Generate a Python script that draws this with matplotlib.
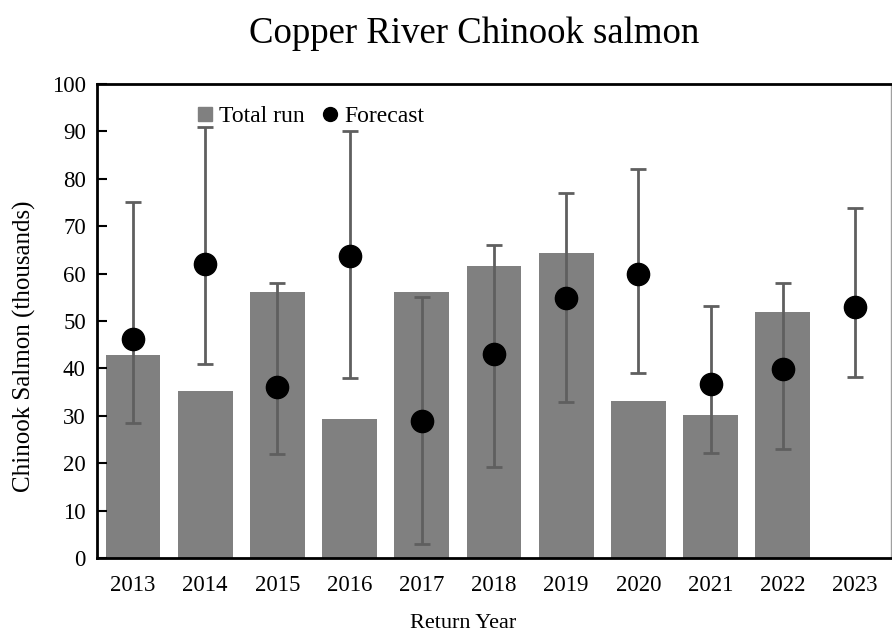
import numpy as np
import matplotlib
matplotlib.use("Agg")
import matplotlib.pyplot as plt
from matplotlib.lines import Line2D

plt.rcParams['font.family'] = ['Liberation Serif', 'DejaVu Serif']

# Return years and values (thousands of fish)
years = ['2013', '2014', '2015', '2016', '2017', '2018', '2019', '2020', '2021', '2022', '2023']
total_run = [42.9, 35.2, 56.1, 29.4, 56.1, 61.7, 64.4, 33.1, 30.2, 52.0, np.nan]
forecast = [46.2, 62.0, 36.0, 63.8, 29.0, 43.0, 54.9, 59.9, 36.8, 39.8, 53.0]
fc_low = [28.5, 41.0, 22.0, 38.0, 3.0, 19.2, 32.9, 39.1, 22.1, 23.0, 38.1]
fc_high = [75.0, 91.0, 58.0, 90.0, 55.0, 66.1, 77.0, 82.0, 53.1, 58.0, 73.9]

x = np.arange(len(years))
fc = np.array(forecast)
yerr = np.vstack([fc - np.array(fc_low), np.array(fc_high) - fc])

fig = plt.figure(figsize=(8.92, 6.34), dpi=100)
ax = fig.add_axes([0.1087, 0.1199, 0.8902, 0.7476])

ax.bar(x, total_run, width=0.76, color='#808080', zorder=1)
ax.errorbar(x, fc, yerr=yerr, fmt='none', ecolor='#5f5f5f', elinewidth=2,
            capsize=6, capthick=2, zorder=2)
ax.plot(x, fc, 'o', color='black', markersize=16, zorder=3)

ax.set_xlim(-0.5, 10.5)
ax.set_ylim(0, 100)
ax.set_yticks(range(0, 101, 10))
ax.set_xticks(x)
ax.set_xticklabels(years)
ax.tick_params(axis='y', direction='in', length=7, width=1.5, labelsize=16.5, pad=8)
ax.tick_params(axis='x', length=0, labelsize=16.5, pad=12)

for side in ['left', 'bottom', 'top']:
    ax.spines[side].set_linewidth(2)
    ax.spines[side].set_color('black')
ax.spines['right'].set_linewidth(1)
ax.spines['right'].set_color('#a0a0a0')

ax.set_ylabel('Chinook Salmon (thousands)', fontsize=18)
ax.yaxis.set_label_coords(-0.077, 0.446)
ax.set_xlabel('Return Year', fontsize=16)
ax.xaxis.set_label_coords(0.461, -0.119)
fig.text(0.532, 0.947, 'Copper River Chinook salmon', fontsize=26.5,
         ha='center', va='center')

handles = [
    Line2D([], [], marker='s', color='#808080', linestyle='none', markersize=10),
    Line2D([], [], marker='o', color='black', linestyle='none', markersize=10),
]
ax.legend(handles, ['Total run', 'Forecast'], loc='upper left', ncol=2,
          bbox_to_anchor=(0.094, 1.0), frameon=False, fontsize=17,
          handletextpad=0.1, columnspacing=0.6, handlelength=1.0)

fig.savefig('out.png', dpi=100)
